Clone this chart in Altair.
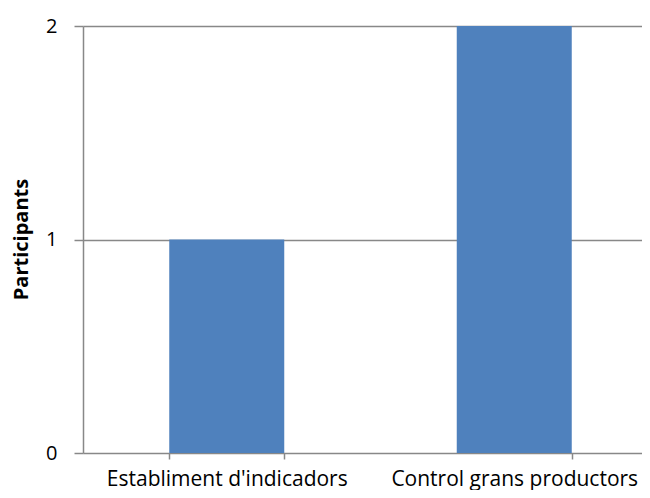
import altair as alt
import pandas as pd

categories = ["Establiment d'indicadors", "Control grans productors"]
participants = [1, 2]

df = pd.DataFrame({"cat": categories, "val": participants})

FONT = "Open Sans"
GRID = "#888888"

chart = alt.Chart(df).mark_bar(color="#4F81BD").encode(
    x=alt.X(
        "cat:N",
        sort=categories,
        scale=alt.Scale(range=[0, 575], paddingInner=0.6, paddingOuter=0.3),
        axis=alt.Axis(
            title=None,
            labelAngle=0,
            domain=False,
            ticks=True,
            tickBand="extent",
            tickSize=6,
            tickColor=GRID,
            tickWidth=1.5,
            labelPadding=9,
            labelFontSize=21,
            labelFont=FONT,
            labelColor="#000000",
            labelLimit=400,
        ),
    ),
    y=alt.Y(
        "val:Q",
        scale=alt.Scale(domain=[0, 2], nice=False, zero=True),
        axis=alt.Axis(
            title="Participants",
            titleFont=FONT,
            titleFontSize=20,
            titleFontWeight="bold",
            titleColor="#000000",
            titleX=-62,
            titleY=213,
            titleAlign="center",
            titleBaseline="middle",
            titleAngle=270,
            tickCount=2,
            labelFontSize=20,
            labelFont=FONT,
            labelColor="#000000",
            labelPadding=17,
            labelOverlap=False,
            tickSize=9,
            tickColor=GRID,
            tickWidth=1.5,
            grid=True,
            gridColor=GRID,
            gridWidth=1.5,
            domain=True,
            domainColor=GRID,
            domainWidth=1.5,
        ),
    ),
).properties(
    width=559,
    height=427,
    autosize=alt.AutoSizeParams(type="none"),
    padding={"left": 75, "top": 18, "right": 0, "bottom": 37},
).configure_view(stroke=None)

chart.save("out.html", embed_options={"renderer": "svg", "actions": False})
